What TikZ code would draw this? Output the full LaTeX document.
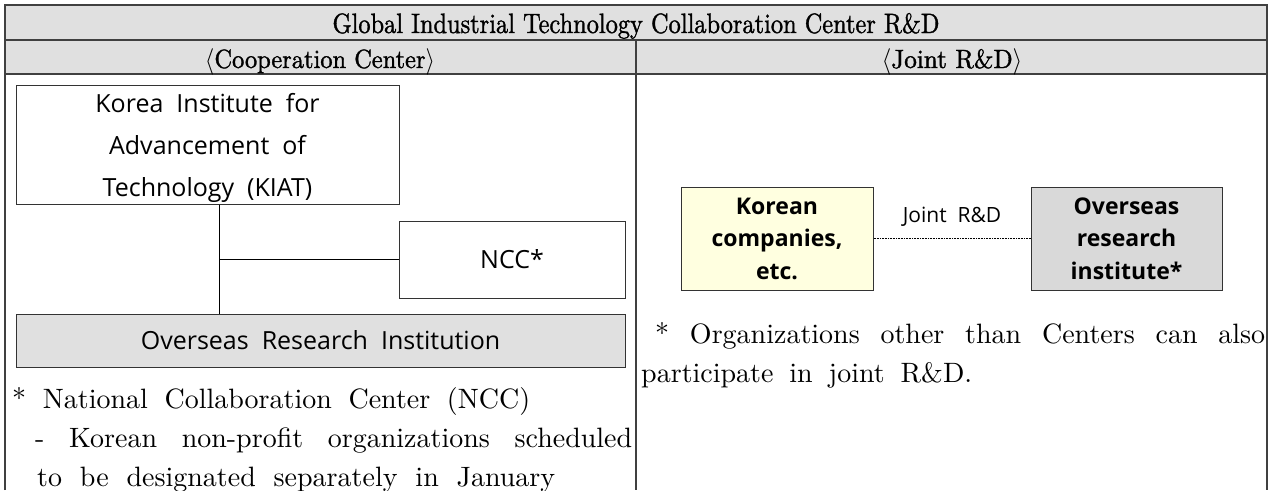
\documentclass[tikz,border=0pt]{standalone}
\usepackage{fontspec}
\usepackage{graphicx}
\usetikzlibrary{positioning}
\setmainfont{lmroman10-regular}[Extension=.otf,BoldFont=lmroman10-bold]
\newfontfamily\headfont{lmroman10-regular}[Extension=.otf,FakeBold=1.3]
\newfontfamily\gothic[WordSpace=2]{Open Sans}
\definecolor{hdrgray}{RGB}{224,224,224}
\definecolor{boxgray}{RGB}{217,217,217}
\definecolor{lightyel}{RGB}{255,255,224}
\newcommand{\hdtext}[3]{\resizebox{#1}{#2}{\headfont #3}}

\begin{document}
\begin{tikzpicture}[x=1pt,y=-1pt,
  rule/.style={draw=black!75,line width=1.2pt},
  orgbox/.style={draw=black!80,line width=1pt,inner sep=0pt,align=center,font=\gothic\fontsize{25}{42}\selectfont},
  keybox/.style={draw=black!80,line width=1pt,inner sep=0pt,align=center,minimum width=192pt,minimum height=103pt,font=\gothic\bfseries\fontsize{23}{32.5}\selectfont},
  note/.style={anchor=base west,inner sep=0pt,font=\fontsize{28}{39}\selectfont}]
   \useasboundingbox (0,0) rectangle (1271,490);
   % table frame
   \fill[hdrgray] (5,5) rectangle (1267,74);
   \draw[rule] (5,490) -- (5,5) -- (1267,5) -- (1267,490);
   \draw[rule] (5,40) -- (1267,40) (5,74) -- (1267,74) (636,40) -- (636,490);
   \node[anchor=base,inner sep=0pt] (title) at (636,33) {\hdtext{607pt}{20pt}{Global Industrial Technology Collaboration Center R\&D}};
   \node[anchor=base,inner sep=0pt] (coop) at (320,68) {\hdtext{230pt}{19.8pt}{$\langle$Cooperation Center$\rangle$}};
   \node[anchor=base,inner sep=0pt] (joint) at (952,68) {\hdtext{141pt}{19.8pt}{$\langle$Joint R\&D$\rangle$}};
   % cooperation center
   \node[orgbox,minimum width=383pt,minimum height=119pt] (kiat) at (207.5,144.5) {\rule{0pt}{26pt}Korea Institute for\\Advancement of\\Technology (KIAT)};
   \node[orgbox,minimum width=226pt,minimum height=77pt] (ncc) at (512,259.5) {NCC*};
   \node[orgbox,fill=hdrgray,minimum width=609pt,minimum height=53pt] (ori) at (320.5,340.5) {Overseas Research Institution};
   \coordinate (hub) at (219,259.5);
   \draw[line width=0.8pt] (kiat.south -| hub) -- (ori.north -| hub);
   \draw[line width=0.8pt] (hub) -- (ncc.west);
   % joint R&D
   \node[keybox,fill=lightyel] (kor) at (777,238.5) {Korean\\companies,\\etc.};
   \node[keybox,fill=boxgray,minimum width=191pt] (ovs) at (1126.5,238.5) {Overseas\\research\\institute*};
   \path (kor) edge[densely dotted,line width=0.6pt] node[anchor=base,yshift=16.5pt,font=\gothic\fontsize{21}{25}\selectfont] {Joint R\&D} (ovs);
   % notes
   \node[note] (nccnote) at (12,408) {\makebox[518pt][s]{* National Collaboration Center (NCC)}};
   \node[note] (nccdesc) at (35,447) {\makebox[597pt][s]{- Korean non-profit organizations scheduled}};
   \node[note] (nccdate) at (37,486) {\makebox[518pt][s]{to be designated separately in January}};
   \node[note] (jointnote) at (655,343) {\makebox[610pt][s]{* Organizations other than Centers can also}};
   \node[note] (jointmore) at (641,382) {\makebox[331pt][s]{participate in joint R\&D.}};
\end{tikzpicture}
\end{document}
